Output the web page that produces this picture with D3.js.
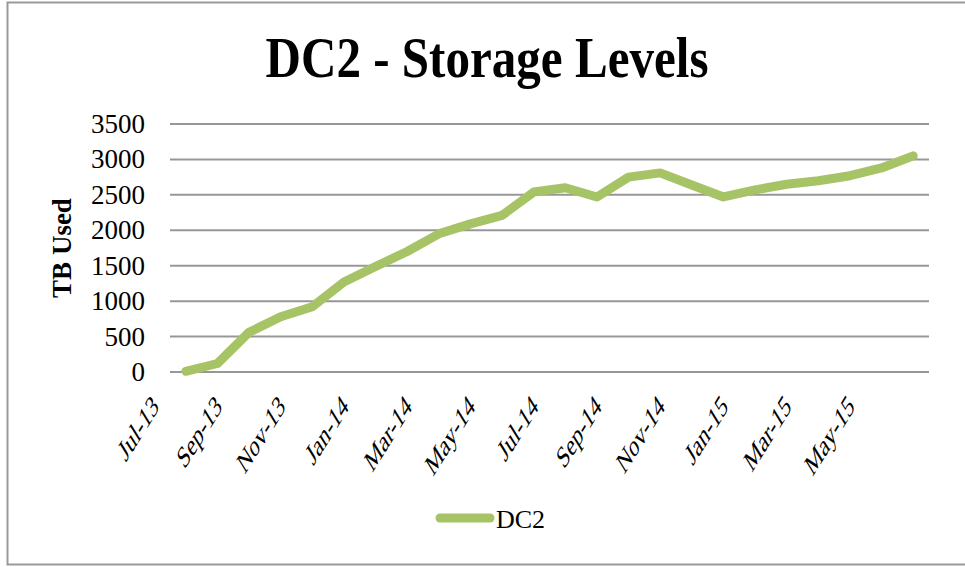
<!DOCTYPE html>
<html>
<head>
<meta charset="utf-8">
<script src="https://cdn.jsdelivr.net/npm/d3@7"></script>
<style>
  body { margin: 0; background: #fff; }
  svg text { font-family: "Liberation Serif", "DejaVu Serif", serif; fill: #000; }
</style>
</head>
<body>
<svg width="965" height="567"></svg>
<script>
// monthly storage, Jul-13 .. Jun-15
var months = ['Jul-13', 'Aug-13', 'Sep-13', 'Oct-13', 'Nov-13', 'Dec-13',
  'Jan-14', 'Feb-14', 'Mar-14', 'Apr-14', 'May-14', 'Jun-14',
  'Jul-14', 'Aug-14', 'Sep-14', 'Oct-14', 'Nov-14', 'Dec-14',
  'Jan-15', 'Feb-15', 'Mar-15', 'Apr-15', 'May-15', 'Jun-15'];
var dc2 = [10, 120, 560, 780, 920, 1270, 1490, 1700, 1950, 2090, 2210, 2540,
  2600, 2470, 2750, 2810, 2640, 2470, 2570, 2650, 2700, 2770, 2880, 3050];
var yTicks = [0, 500, 1000, 1500, 2000, 2500, 3000, 3500];
var xLabels = months.filter((m, i) => i % 2 === 0);

var green = '#a6c365';
var svg = d3.select('svg');

// outer frame
svg.append('rect')
  .attr('x', 7.5).attr('y', 2.5)
  .attr('width', 970).attr('height', 562)
  .attr('fill', 'none')
  .attr('stroke', '#999')
  .attr('stroke-width', 2);

var plotLeft = 170, plotRight = 929, plotTop = 124, plotBottom = 372;

var xScale = d3.scaleBand()
  .domain(months)
  .range([plotLeft, plotRight]);

var yScale = d3.scaleLinear()
  .domain([0, 3500])
  .range([plotBottom, plotTop]);

// grid
svg.append('g')
  .selectAll('line')
  .data(yTicks)
  .enter()
  .append('line')
  .attr('x1', plotLeft).attr('x2', plotRight)
  .attr('y1', (d) => yScale(d)).attr('y2', (d) => yScale(d))
  .attr('stroke', '#979797')
  .attr('stroke-width', 2);

// y labels
svg.append('g')
  .selectAll('text')
  .data(yTicks)
  .enter()
  .append('text')
  .attr('x', 145)
  .attr('y', (d) => yScale(d) + 9)
  .attr('text-anchor', 'end')
  .attr('font-size', 27)
  .text((d) => d);

// x labels, rotated like excel (squeezed horizontally)
svg.append('g')
  .selectAll('text')
  .data(xLabels)
  .enter()
  .append('text')
  .attr('transform', (d) => `translate(${xScale(d) + xScale.bandwidth() / 2 - 26}, 408) scale(0.62, 1) rotate(-45)`)
  .attr('text-anchor', 'end')
  .attr('font-size', 31)
  .text((d) => d);

// line
var line = d3.line()
  .x((d, i) => xScale(months[i]) + xScale.bandwidth() / 2)
  .y((d) => yScale(d));

svg.append('path')
  .datum(dc2)
  .attr('d', line)
  .attr('fill', 'none')
  .attr('stroke', green)
  .attr('stroke-width', 9)
  .attr('stroke-linejoin', 'round')
  .attr('stroke-linecap', 'round');

// title
svg.append('text')
  .attr('x', 487)
  .attr('y', 77)
  .attr('text-anchor', 'middle')
  .attr('font-size', 56)
  .attr('font-weight', 'bold')
  .attr('textLength', 443)
  .attr('lengthAdjust', 'spacingAndGlyphs')
  .text('DC2 - Storage Levels');

// y axis title
svg.append('text')
  .attr('transform', 'translate(71, 248) rotate(-90)')
  .attr('text-anchor', 'middle')
  .attr('font-size', 27)
  .attr('font-weight', 'bold')
  .text('TB Used');

// legend
svg.append('line')
  .attr('x1', 440).attr('x2', 490)
  .attr('y1', 518).attr('y2', 518)
  .attr('stroke', green)
  .attr('stroke-width', 9)
  .attr('stroke-linecap', 'round');

svg.append('text')
  .attr('x', 496)
  .attr('y', 528)
  .attr('font-size', 26)
  .text('DC2');
</script>
</body>
</html>
